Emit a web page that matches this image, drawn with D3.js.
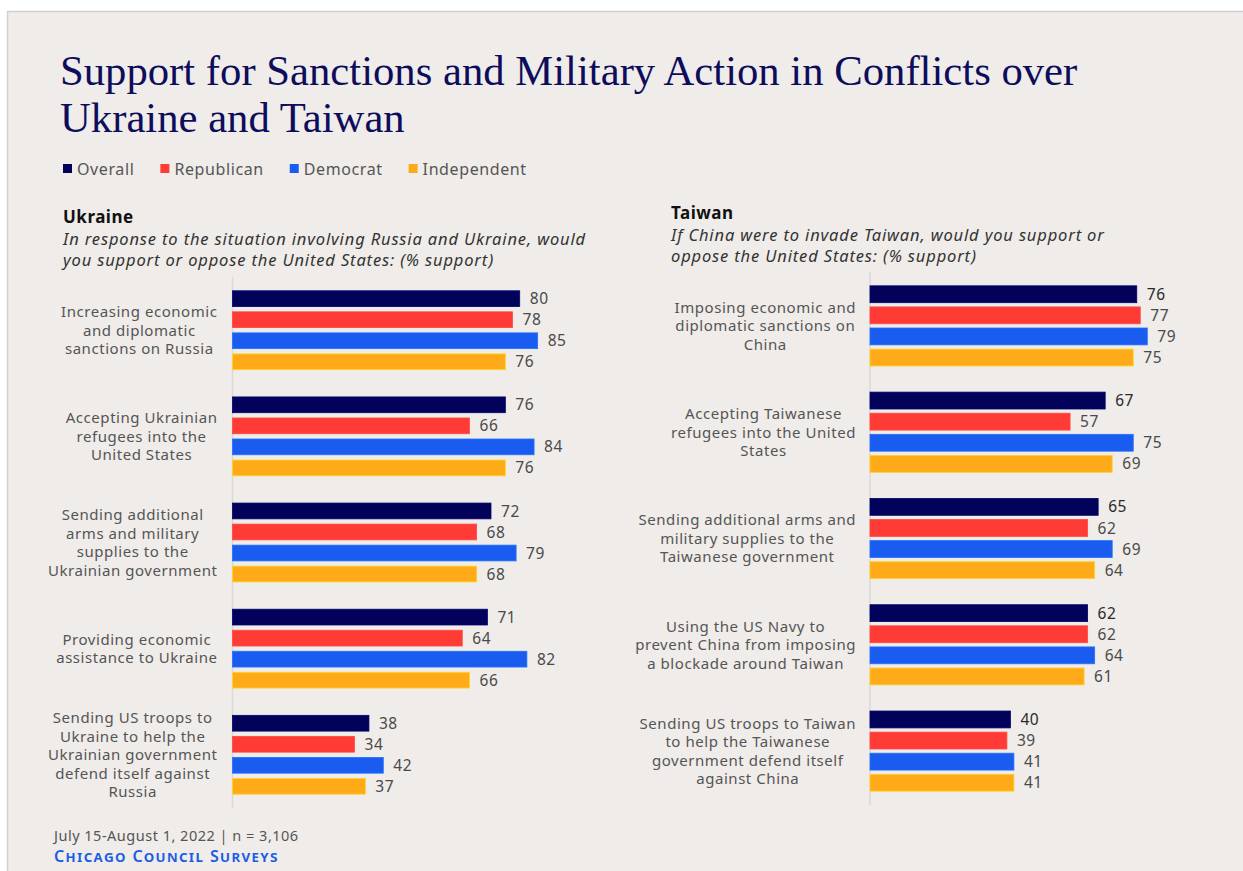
<!DOCTYPE html>
<html>
<head>
<meta charset="utf-8">
<script src="https://cdn.jsdelivr.net/npm/d3@7"></script>
<style>
  html, body { margin: 0; padding: 0; background: #ffffff; }
  svg { display: block; }
</style>
</head>
<body>
<svg id="chart" width="1243" height="871"></svg>
<script>
// Survey series (percent support)
const seriesNames = ["Overall", "Republican", "Democrat", "Independent"];
const seriesColors = ["#02025a", "#ff3b36", "#1a5cf0", "#ffab19"];

const ukraineItems = [
  ["Increasing economic", "and diplomatic", "sanctions on Russia"],
  ["Accepting Ukrainian", "refugees into the", "United States"],
  ["Sending additional", "arms and military", "supplies to the", "Ukrainian government"],
  ["Providing economic", "assistance to Ukraine"],
  ["Sending US troops to", "Ukraine to help the", "Ukrainian government", "defend itself against", "Russia"]
];
const ukraineOverall     = [80, 76, 72, 71, 38];
const ukraineRepublican  = [78, 66, 68, 64, 34];
const ukraineDemocrat    = [85, 84, 79, 82, 42];
const ukraineIndependent = [76, 76, 68, 66, 37];

const taiwanItems = [
  ["Imposing economic and", "diplomatic sanctions on", "China"],
  ["Accepting Taiwanese", "refugees into the United", "States"],
  ["Sending additional arms and", "military supplies to the", "Taiwanese government"],
  ["Using the US Navy to", "prevent China from imposing", "a blockade around Taiwan"],
  ["Sending US troops to Taiwan", "to help the Taiwanese", "government defend itself", "against China"]
];
const taiwanOverall     = [76, 67, 65, 62, 40];
const taiwanRepublican  = [77, 57, 62, 62, 39];
const taiwanDemocrat    = [79, 75, 69, 64, 41];
const taiwanIndependent = [75, 69, 64, 61, 41];

const titleLines = ["Support for Sanctions and Military Action in Conflicts over", "Ukraine and Taiwan"];
const footNote = "July 15-August 1, 2022 | n = 3,106";
const sourceName = "Chicago Council Surveys";

const svg = d3.select("#chart");
const SANS = "'Noto Sans', 'Open Sans', sans-serif";

// Panel
svg.append("rect")
  .attr("x", 7.5).attr("y", 11.5)
  .attr("width", 1250).attr("height", 880)
  .attr("fill", "#efece9")
  .attr("stroke", "#d2d0ce").attr("stroke-width", 1.5);

// Title
svg.append("text")
  .attr("font-family", "'Liberation Serif', 'Times New Roman', serif")
  .attr("font-size", 42.7)
  .attr("fill", "#0d0d5c")
  .selectAll("tspan").data(titleLines).join("tspan")
  .attr("x", 60)
  .attr("y", (d, i) => 85 + i * 47)
  .text(d => d);

// Legend
const legend = svg.append("g").attr("font-family", SANS).attr("font-size", 16)
  .attr("letter-spacing", 0.6).attr("fill", "#555");
let lx = 63;
seriesNames.forEach((name, i) => {
  legend.append("rect").attr("x", lx).attr("y", 164).attr("width", 9).attr("height", 9).attr("fill", seriesColors[i]);
  const t = legend.append("text").attr("x", lx + 14).attr("y", 175).text(name);
  lx += 14 + t.node().getComputedTextLength() + 26;
});

function panel(cfg) {
  const g = svg.append("g");
  // heading + question
  g.append("text")
    .attr("x", cfg.headX).attr("y", cfg.headY)
    .attr("font-family", SANS).attr("font-size", 17).attr("font-weight", 700)
    .attr("letter-spacing", 0.5)
    .attr("fill", "#111").text(cfg.heading);
  g.append("text")
    .attr("font-family", SANS).attr("font-size", 16.5).attr("font-style", "italic")
    .attr("letter-spacing", 0.85)
    .attr("fill", "#333")
    .selectAll("tspan").data(cfg.question).join("tspan")
    .attr("x", cfg.headX).attr("y", (d, i) => cfg.headY + 22 + i * 21)
    .text(d => d);

  const x = d3.scaleLinear().domain([0, 100]).range([cfg.x0, cfg.x0 + cfg.pxPer100]);
  const y = d3.scaleBand().domain(d3.range(cfg.items.length))
    .range([cfg.yTop, cfg.yBottom]).paddingInner(cfg.groupPad).paddingOuter(0.13);
  const ySub = d3.scaleBand().domain(d3.range(seriesNames.length))
    .range([0, y.bandwidth()]).paddingInner(cfg.barPad).paddingOuter(0);

  // baseline
  g.append("line")
    .attr("x1", x(0)).attr("x2", x(0))
    .attr("y1", cfg.yTop).attr("y2", cfg.yBottom)
    .attr("stroke", "#dcd9d6").attr("stroke-width", 1.5);

  const rows = cfg.items.map((lines, gi) => ({
    gi, lines, values: cfg.values.map(arr => arr[gi])
  }));

  const grp = g.selectAll("g.grp").data(rows).join("g")
    .attr("class", "grp")
    .attr("transform", d => `translate(0,${y(d.gi)})`);

  grp.selectAll("rect").data(d => d.values).join("rect")
    .attr("x", x(0))
    .attr("y", (d, i) => ySub(i))
    .attr("width", d => x(d) - x(0))
    .attr("height", ySub.bandwidth())
    .attr("fill", (d, i) => seriesColors[i])
    .attr("stroke", (d, i) => d3.color(seriesColors[i]).brighter(0.6))
    .attr("stroke-width", 0.8);

  grp.selectAll("text.val").data(d => d.values).join("text")
    .attr("class", "val")
    .attr("x", d => x(d) + 10)
    .attr("y", (d, i) => ySub(i) + ySub.bandwidth() / 2)
    .attr("dy", "0.36em")
    .attr("font-family", SANS).attr("font-size", 15.5)
    .attr("letter-spacing", 0.6)
    .attr("fill", (d, i) => i === 0 ? cfg.firstValColor : "#4a4a4a")
    .text(d => d);

  // category labels: block right-aligned, lines centred inside the block
  grp.each(function (d) {
    const lab = d3.select(this).append("text")
      .attr("font-family", SANS).attr("font-size", 15)
      .attr("letter-spacing", 0.55)
      .attr("fill", "#555").attr("text-anchor", "middle");
    const lh = 18.5;
    const y0 = y.bandwidth() / 2 - (d.lines.length - 1) * lh / 2;
    const spans = lab.selectAll("tspan").data(d.lines).join("tspan")
      .attr("y", (s, i) => y0 + i * lh)
      .attr("dy", "0.36em")
      .text(s => s);
    let maxW = 0;
    spans.each(function () { maxW = Math.max(maxW, this.getComputedTextLength()); });
    spans.attr("x", cfg.labelRight - maxW / 2);
  });
}

panel({
  heading: "Ukraine",
  question: ["In response to the situation involving Russia and Ukraine, would", "you support or oppose the United States: (% support)"],
  headX: 63, headY: 223,
  items: ukraineItems,
  values: [ukraineOverall, ukraineRepublican, ukraineDemocrat, ukraineIndependent],
  x0: 232.5, pxPer100: 359,
  yTop: 277, yBottom: 808,
  groupPad: 0.257, barPad: 0.25,
  labelRight: 217.5,
  firstValColor: "#4a4a4a"
});

panel({
  heading: "Taiwan",
  question: ["If China were to invade Taiwan, would you support or", "oppose the United States: (% support)"],
  headX: 671, headY: 219,
  items: taiwanItems,
  values: [taiwanOverall, taiwanRepublican, taiwanDemocrat, taiwanIndependent],
  x0: 870, pxPer100: 351,
  yTop: 272, yBottom: 805,
  groupPad: 0.246, barPad: 0.2,
  labelRight: 856,
  firstValColor: "#2a2a2a"
});

// Footer
svg.append("text")
  .attr("x", 54).attr("y", 841)
  .attr("font-family", SANS).attr("font-size", 14.5).attr("letter-spacing", 0.5)
  .attr("fill", "#555")
  .text(footNote);
svg.append("text")
  .attr("x", 54).attr("y", 862)
  .attr("font-family", SANS).attr("font-size", 16).attr("font-weight", 600)
  .attr("font-variant", "small-caps").attr("letter-spacing", 1.4)
  .attr("fill", "#1a5ce6")
  .text(sourceName);
</script>
</body>
</html>
